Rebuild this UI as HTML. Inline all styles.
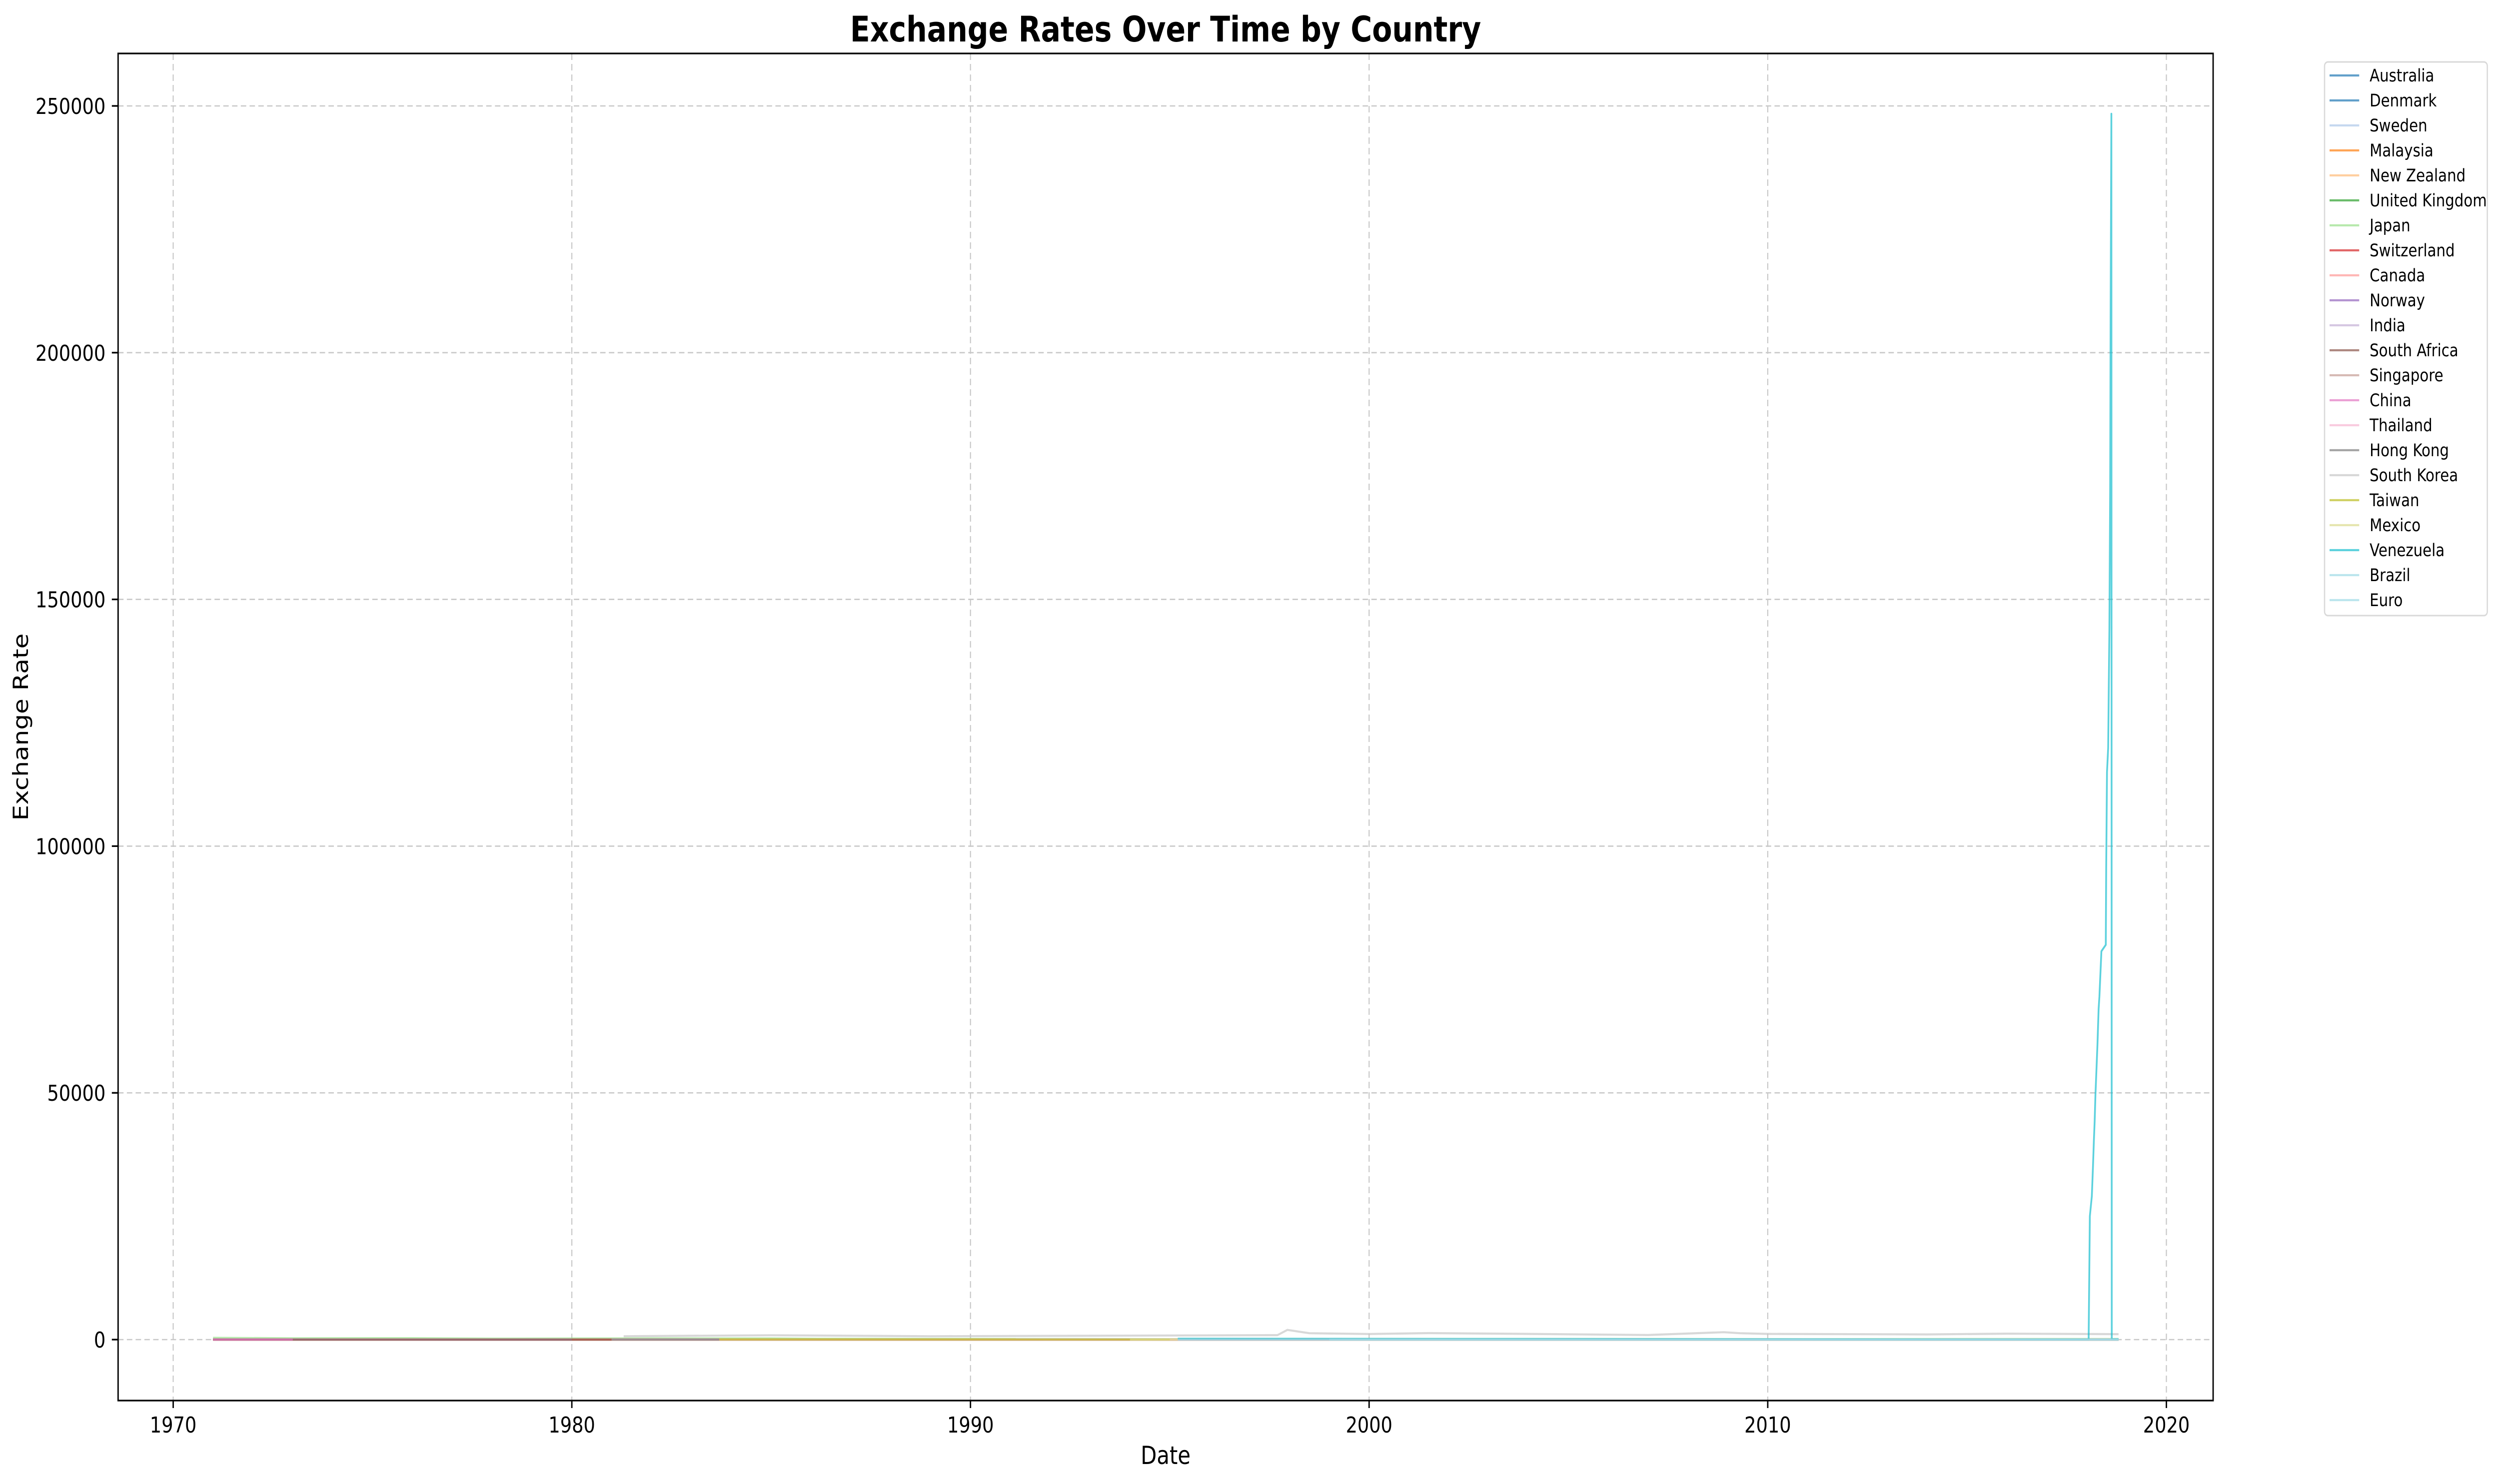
<!DOCTYPE html>
<html><head><meta charset="utf-8"><style>
html,body{margin:0;padding:0;background:#fff;width:100%;height:100%;overflow:hidden;}
svg{display:block;width:100vw;height:100vh;font-family:"DejaVu Sans","Liberation Sans",sans-serif;}
</style></head><body>
<svg id="chart" viewBox="0 0 5988 2970" preserveAspectRatio="none">
<rect width="5988" height="2970" fill="#fff"/>
<text x="2793" y="83" font-size="70" font-weight="bold" text-anchor="middle">Exchange Rates Over Time by Country</text>
<g id="grid"></g>
<g id="series"></g>
<rect x="283" y="107" width="5020" height="2696" fill="none" stroke="#000" stroke-width="3.3"/>
<g id="ticks"></g>
<text x="2793" y="2930" font-size="50" text-anchor="middle">Date</text>
<text transform="translate(67,1455) rotate(-90)" font-size="50" text-anchor="middle">Exchange Rate</text>
<g id="legend"></g>
</svg>
<script>
const xTicks = [1970, 1980, 1990, 2000, 2010, 2020];
const yTicks = [0, 50000, 100000, 150000, 200000, 250000];
const countries = ["Australia","Denmark","Sweden","Malaysia","New Zealand","United Kingdom","Japan","Switzerland","Canada","Norway","India","South Africa","Singapore","China","Thailand","Hong Kong","South Korea","Taiwan","Mexico","Venezuela","Brazil","Euro"];
const colors = ["#1f77b4","#1f77b4","#aec7e8","#ff7f0e","#ffbb78","#2ca02c","#98df8a","#d62728","#ff9896","#9467bd","#c5b0d5","#8c564b","#c49c94","#e377c2","#f7b6d2","#7f7f7f","#c7c7c7","#bcbd22","#dbdb8d","#17becf","#9edae5","#9edae5"];
const australiaYears = [1971, 2018.8]; const australiaVals = [0.9, 1.4];
const denmarkYears = [1971, 2018.8]; const denmarkVals = [7.5, 6.4];
const swedenYears = [1971, 2018.8]; const swedenVals = [5.2, 9];
const malaysiaYears = [1971, 2018.8]; const malaysiaVals = [3, 4.1];
const newZealandYears = [1971, 2018.8]; const newZealandVals = [1.1, 1.5];
const ukYears = [1971, 2018.8]; const ukVals = [0.4, 0.78];
const japanYears = [1971, 1973, 1976, 1978, 1982, 1985, 1986.2, 1990, 1995, 2000, 2007, 2011, 2015, 2018.8];
const japanVals = [358, 270, 295, 200, 250, 240, 160, 145, 90, 110, 120, 78, 120, 112];
const switzerlandYears = [1971, 2018.8]; const switzerlandVals = [4.3, 1];
const canadaYears = [1971, 2018.8]; const canadaVals = [1, 1.3];
const norwayYears = [1971, 1980]; const norwayVals = [7, 5];
const indiaYears = [1973, 1980]; const indiaVals = [8, 8];
const southAfricaYears = [1971, 1981]; const southAfricaVals = [0.7, 0.8];
const singaporeYears = [1981, 2018.8]; const singaporeVals = [2.1, 1.37];
const chinaYears = [1971, 1973]; const chinaVals = [2.4, 2.3];
const thailandYears = [1981, 2018.8]; const thailandVals = [21, 33];
const hongKongYears = [1981, 1983.7]; const hongKongVals = [5.6, 7.8];
const southKoreaYears = [1981.3, 1985, 1989, 1997.7, 1997.95, 1998.5, 2000, 2001.5, 2004, 2007, 2008.9, 2009.3, 2010, 2014, 2016, 2018.8];
const southKoreaVals = [680, 880, 680, 900, 1960, 1300, 1130, 1320, 1150, 930, 1500, 1300, 1150, 1050, 1200, 1100];
const taiwanYears = [1983.7, 1995]; const taiwanVals = [40, 27];
const mexicoYears = [1994, 1995.2]; const mexicoVals = [3.4, 6];
const venezuelaYears = [1995.2, 2018.05, 2018.08, 2018.13, 2018.16, 2018.18, 2018.20, 2018.22, 2018.27, 2018.30, 2018.32, 2018.37, 2018.48, 2018.49, 2018.51, 2018.54, 2018.57, 2018.59, 2018.60, 2018.62, 2018.63, 2018.8];
const venezuelaVals = [170, 10, 25000, 29100, 35300, 40200, 44200, 49600, 59700, 67000, 69500, 78700, 80000, 95800, 115000, 119900, 143800, 172400, 206900, 248400, 60, 60];
const brazilYears = [1995.2, 2018.8]; const brazilVals = [0.9, 3.9];
const euroYears = [1999, 2018.8]; const euroVals = [0.95, 0.86];

const yearsList = [australiaYears,denmarkYears,swedenYears,malaysiaYears,newZealandYears,ukYears,japanYears,switzerlandYears,canadaYears,norwayYears,indiaYears,southAfricaYears,singaporeYears,chinaYears,thailandYears,hongKongYears,southKoreaYears,taiwanYears,mexicoYears,venezuelaYears,brazilYears,euroYears];
const valsList = [australiaVals,denmarkVals,swedenVals,malaysiaVals,newZealandVals,ukVals,japanVals,switzerlandVals,canadaVals,norwayVals,indiaVals,southAfricaVals,singaporeVals,chinaVals,thailandVals,hongKongVals,southKoreaVals,taiwanVals,mexicoVals,venezuelaVals,brazilVals,euroVals];

const NS = "http://www.w3.org/2000/svg";
const L = 283, R = 5303, T = 107, B = 2803;
function xs(yr){ return 415 + (yr - 1970) * 95.52; }
function ys(v){ return 2681 - v * (493.8 / 50000); }
function mk(tag, attrs, parent){ const e = document.createElementNS(NS, tag); for (const k in attrs) e.setAttribute(k, attrs[k]); parent.appendChild(e); return e; }

const grid = document.getElementById('grid');
const ticks = document.getElementById('ticks');
xTicks.forEach(t => {
  const x = xs(t);
  const g = mk('line', {x1:x, x2:x, y1:T, y2:B, stroke:'#c8c8c8', 'stroke-width':2.6, 'stroke-dasharray':'13 8'}, grid);
  
  
  const tk = mk('line', {x1:x, x2:x, y1:B, y2:B+15, stroke:'#000', 'stroke-width':3.3}, ticks);
  
  
  const lb = mk('text', {x:x, y:2867, 'font-size':44, 'text-anchor':'middle'}, ticks);
  lb.textContent = String(t);
  
  
});
yTicks.forEach(t => {
  const y = ys(t);
  const g = mk('line', {x1:L, x2:R, y1:y, y2:y, stroke:'#c8c8c8', 'stroke-width':2.6, 'stroke-dasharray':'13 8'}, grid);
  
  
  const tk = mk('line', {x1:L-15, x2:L, y1:y, y2:y, stroke:'#000', 'stroke-width':3.3}, ticks);
  
  
  const lb = mk('text', {x:253, y:y+16, 'font-size':44, 'text-anchor':'end'}, ticks);
  lb.textContent = String(t);
  
  
});

const sg = document.getElementById('series');
countries.forEach((c, i) => {
  const pts = yearsList[i].map((yr, j) => xs(yr).toFixed(1) + ',' + ys(valsList[i][j]).toFixed(1)).join(' ');
  const pl = mk('polyline', {points:pts, fill:'none', stroke:colors[i], 'stroke-opacity':0.7, 'stroke-width':4.2, 'stroke-linejoin':'round'}, sg);
  
  
});

const lg = document.getElementById('legend');
const frame = mk('rect', {x:5570, y:124, width:390, height:1108, rx:8, fill:'#fff', 'fill-opacity':0.8, stroke:'#d9d9d9', 'stroke-width':3}, lg);


countries.forEach((c, i) => {
  const y = 151 + i * 50;
  const ln = mk('line', {x1:5582, x2:5653, y1:y, y2:y, stroke:colors[i], 'stroke-opacity':0.7, 'stroke-width':4.2}, lg);
  
  
  const tx = mk('text', {x:5678, y:y+12, 'font-size':35}, lg);
  tx.textContent = c;
  
  
});
</script>
</body></html>
